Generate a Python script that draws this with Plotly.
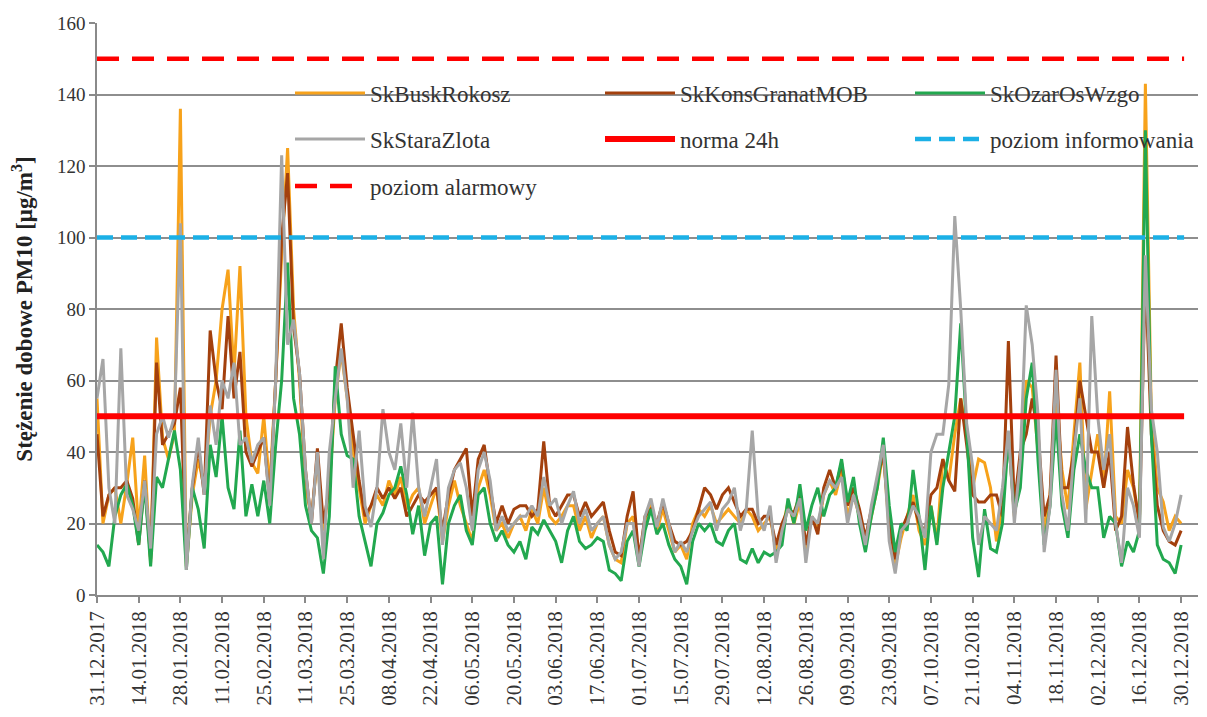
import pandas as pd
import plotly.graph_objects as go

# ---- data (2-day sampling) ----
dates = pd.date_range("2017-12-31", periods=183, freq="2D")

busk = [55, 20, 28, 30, 20, 31, 44,
        18, 39, 9, 72, 44, 38, 45,
        136, 8, 28, 38, 30, 50, 60,
        80, 91, 62, 92, 50, 37, 34,
        50, 30, 60, 95, 125, 80, 60,
        30, 22, 38, 18, 30, 55, 68,
        55, 40, 30, 20, 25, 28, 25,
        32, 28, 33, 24, 28, 30, 20,
        25, 30, 15, 25, 32, 25, 20,
        15, 30, 35, 28, 18, 20, 16,
        20, 22, 18, 24, 20, 30, 22,
        20, 22, 25, 25, 18, 22, 16,
        20, 22, 14, 10, 9, 20, 22,
        10, 20, 26, 18, 24, 18, 12,
        14, 10, 20, 24, 22, 25, 20,
        22, 24, 22, 20, 24, 22, 18,
        20, 22, 12, 18, 26, 20, 26,
        12, 22, 18, 28, 32, 28, 35,
        22, 28, 22, 14, 22, 30, 40,
        18, 8, 16, 22, 28, 18, 14,
        25, 15, 38, 32, 45, 55, 45,
        30, 38, 37, 30, 15, 25, 45,
        22, 35, 60, 58, 40, 18, 28,
        55, 35, 24, 45, 65, 24, 35,
        45, 30, 57, 22, 20, 35, 30,
        20, 143, 50, 30, 26, 18, 22,
        20]

kons = [45, 22, 28, 30, 30, 32, 27,
        14, 32, 10, 65, 42, 45, 48,
        58, 10, 30, 42, 28, 74, 60,
        52, 78, 55, 68, 40, 36, 40,
        44, 26, 60, 100, 118, 75, 62,
        35, 20, 41, 20, 30, 60, 76,
        58, 45, 32, 22, 25, 30, 27,
        30, 27, 30, 22, 25, 28, 26,
        28, 30, 18, 28, 35, 38, 41,
        22, 38, 42, 30, 20, 25, 20,
        24, 25, 25, 22, 24, 43, 25,
        22, 25, 28, 28, 22, 26, 22,
        24, 26, 18, 12, 11, 22, 29,
        10, 22, 24, 20, 26, 20, 15,
        14, 15, 18, 24, 30, 28, 24,
        28, 30, 26, 22, 24, 24, 20,
        22, 22, 14, 20, 24, 23, 28,
        14, 22, 17, 30, 35, 30, 37,
        25, 30, 24, 16, 24, 32, 40,
        20, 10, 18, 22, 26, 20, 18,
        28, 30, 38, 32, 29, 55, 42,
        28, 26, 26, 28, 28, 22, 71,
        25, 40, 45, 55, 45, 22, 28,
        67, 30, 30, 40, 60, 50, 40,
        40, 30, 40, 18, 22, 47, 31,
        20, 90, 45, 25, 18, 15, 14,
        18]

ozar = [14, 12, 8, 22, 28, 31, 25,
        14, 31, 8, 33, 30, 38, 46,
        35, 7, 30, 24, 13, 42, 33,
        50, 30, 24, 46, 22, 31, 22,
        32, 20, 42, 60, 93, 55, 45,
        25, 18, 16, 6, 22, 64, 45,
        39, 38, 22, 15, 8, 20, 23,
        28, 30, 36, 28, 17, 25, 11,
        20, 22, 3, 20, 25, 28, 18,
        14, 28, 30, 20, 15, 18, 14,
        12, 15, 10, 19, 17, 21, 18,
        15, 9, 18, 22, 15, 13, 14,
        16, 15, 7, 6, 4, 15, 18,
        8, 18, 24, 17, 20, 14, 10,
        8, 3, 15, 20, 18, 20, 15,
        14, 18, 20, 10, 9, 13, 9,
        12, 11, 12, 14, 27, 20, 31,
        18, 25, 30, 22, 28, 30, 38,
        26, 33, 20, 12, 22, 30, 44,
        25, 12, 20, 18, 35, 22, 7,
        25, 14, 30, 40, 50, 76, 45,
        16, 5, 24, 13, 12, 20, 44,
        23, 30, 55, 65, 37, 14, 25,
        50, 25, 16, 35, 45, 35, 30,
        30, 16, 22, 20, 8, 15, 12,
        18, 130, 45, 14, 10, 9, 6,
        14]

stara = [55, 66, 30, 20, 69, 28, 24,
         18, 32, 13, 45, 50, 44, 50,
         104, 7, 31, 44, 28, 53, 42,
         60, 55, 65, 42, 44, 37, 42,
         44, 25, 60, 123, 70, 77, 62,
         35, 20, 40, 10, 40, 55, 69,
         55, 30, 46, 25, 19, 30, 52,
         40, 35, 48, 30, 51, 30, 22,
         30, 38, 14, 30, 35, 37, 30,
         18, 35, 40, 32, 18, 22, 18,
         20, 22, 22, 25, 22, 33, 25,
         27, 20, 25, 29, 20, 24, 18,
         20, 22, 14, 10, 12, 20, 20,
         8, 22, 27, 19, 27, 20, 12,
         15, 12, 18, 22, 24, 26, 18,
         24, 26, 30, 18, 24, 46, 22,
         18, 25, 9, 18, 24, 22, 27,
         9, 22, 20, 28, 32, 30, 33,
         20, 28, 22, 14, 25, 33, 42,
         15, 6, 18, 20, 25, 22, 16,
         40, 45, 45, 59, 106, 80, 48,
         36, 14, 22, 20, 18, 30, 46,
         20, 38, 81, 70, 50, 12, 25,
         63, 28, 18, 40, 55, 20, 78,
         50, 35, 45, 20, 9, 30, 25,
         16, 95, 52, 40, 19, 15, 20,
         28]

norma_24h = 50
poziom_informowania = 100
poziom_alarmowy = 150
line_span = ["2017-12-31", "2018-12-31"]

tick_dates = ["2017-12-31", "2018-01-14", "2018-01-28", "2018-02-11", "2018-02-25",
              "2018-03-11", "2018-03-25", "2018-04-08", "2018-04-22", "2018-05-06",
              "2018-05-20", "2018-06-03", "2018-06-17", "2018-07-01", "2018-07-15",
              "2018-07-29", "2018-08-12", "2018-08-26", "2018-09-09", "2018-09-23",
              "2018-10-07", "2018-10-21", "2018-11-04", "2018-11-18", "2018-12-02",
              "2018-12-16", "2018-12-30"]
tick_labels = [pd.Timestamp(d).strftime("%d.%m.%Y") for d in tick_dates]

# ---- figure ----
SERIF = "Times New Roman, Liberation Serif, serif"
fig = go.Figure()

series = [
    ("SkBuskRokosz", busk, "#F7A21B", "legend"),
    ("SkKonsGranatMOB", kons, "#A3400D", "legend2"),
    ("SkOzarOsWzgo", ozar, "#22A84F", "legend3"),
    ("SkStaraZlota", stara, "#A6A6A6", "legend4"),
]
for name, vals, col, lg in series:
    fig.add_trace(go.Scatter(x=dates, y=vals, mode="lines", name=name,
                             line=dict(color=col, width=3), legend=lg))

fig.add_trace(go.Scatter(x=line_span, y=[norma_24h] * 2, mode="lines", name="norma 24h",
                         line=dict(color="#FF0000", width=6), legend="legend5"))
fig.add_trace(go.Scatter(x=line_span, y=[poziom_informowania] * 2, mode="lines",
                         name="poziom informowania",
                         line=dict(color="#1BB0E6", width=4.5, dash="16px,8px"),
                         legend="legend6"))
fig.add_trace(go.Scatter(x=line_span, y=[poziom_alarmowy] * 2, mode="lines",
                         name="poziom alarmowy",
                         line=dict(color="#FF0000", width=4.5, dash="22px,13px"),
                         legend="legend7"))

# the page body adds an 8px offset; plot box in page pixels: x 97..1198, y 23..595
OFF = 8
W, H = 1207, 717
L, R, T, B = 97 - OFF, 1198 - OFF, 23 - OFF, 595 - OFF
PW, PH = R - L, B - T


def legend_at(px_line_start, py_center):
    return dict(x=(px_line_start - OFF - 5 - L) / PW, y=(B - (py_center - OFF)) / PH,
                xanchor="left", yanchor="middle", bgcolor="rgba(0,0,0,0)",
                borderwidth=0, itemwidth=70,
                font=dict(family=SERIF, size=23, color="#333333"))


cols = [295, 605, 915]
rows = [93, 139, 186]
layout_legends = {
    "legend": legend_at(cols[0], rows[0]),
    "legend2": legend_at(cols[1], rows[0]),
    "legend3": legend_at(cols[2], rows[0]),
    "legend4": legend_at(cols[0], rows[1]),
    "legend5": legend_at(cols[1], rows[1]),
    "legend6": legend_at(cols[2], rows[1]),
    "legend7": legend_at(cols[0], rows[2]),
}

fig.update_layout(
    width=W, height=H,
    margin=dict(l=L, r=W - R, t=T, b=H - B, autoexpand=False),
    paper_bgcolor="white", plot_bgcolor="white",
    showlegend=True,
    **layout_legends,
)

fig.update_xaxes(
    type="date", range=["2017-12-31", "2019-01-04 16:00"],
    tickvals=tick_dates, ticktext=tick_labels, tickangle=-90,
    tickfont=dict(family=SERIF, size=21, color="#333333"),
    ticks="outside", ticklen=6, tickcolor="#8a8a8a", tickwidth=1.5,
    showline=True, linecolor="#8a8a8a", linewidth=1.5,
    showgrid=False, zeroline=False, automargin=False,
)
fig.update_yaxes(
    range=[0, 160], dtick=20, tick0=0,
    tickfont=dict(family=SERIF, size=19, color="#333333"),
    ticks="outside", ticklen=6, tickcolor="#8a8a8a", tickwidth=1.5,
    showline=True, linecolor="#8a8a8a", linewidth=1.5,
    showgrid=True, gridcolor="#8e8e8e", gridwidth=1.5, zeroline=False,
    automargin=False,
    title=dict(text="Stężenie dobowe PM10 [μg/m<sup>3</sup>]", standoff=24,
               font=dict(family=SERIF, size=23, color="#222222", weight="bold")),
)

fig.write_html("out.html")
